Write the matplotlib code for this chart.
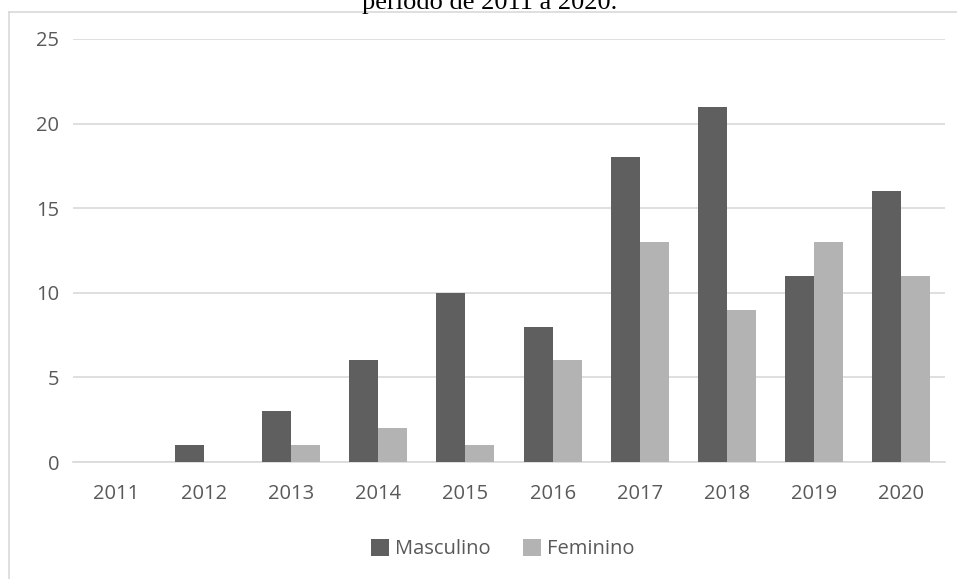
import matplotlib.pyplot as plt
from matplotlib.lines import Line2D
import numpy as np

anos = ['2011', '2012', '2013', '2014', '2015', '2016', '2017', '2018', '2019', '2020']
masculino = [0, 1, 3, 6, 10, 8, 18, 21, 11, 16]
feminino = [0, 0, 1, 2, 1, 6, 13, 9, 13, 11]
yticks = [0, 5, 10, 15, 20, 25]

W, H = 957, 579
fig = plt.figure(figsize=(W / 100, H / 100), dpi=100)

# moldura do gráfico (borda superior e esquerda)
borda = '#d9d9d9'
fig.add_artist(Line2D([9 / W, 1], [1 - 12 / H, 1 - 12 / H], color=borda, lw=1.2,
                      transform=fig.transFigure))
fig.add_artist(Line2D([9 / W, 9 / W], [0, 1 - 12 / H], color=borda, lw=1.2,
                      transform=fig.transFigure))

# legenda da figura (cortada no topo)
fig.text(490 / W, 1 - 9 / H, 'período de 2011 a 2020.', ha='center', va='baseline',
         fontsize=19, family='Liberation Serif', color='black')

ax = fig.add_axes([73 / W, 117 / H, 872 / W, 423 / H])

x = np.arange(len(anos))
largura = 1 / 3
ax.bar(x - largura / 2, masculino, largura, color='#5f5f5f', label='Masculino', zorder=3)
ax.bar(x + largura / 2, feminino, largura, color='#b3b3b3', label='Feminino', zorder=3)

ax.set_xlim(-0.5, len(anos) - 0.5)
ax.set_ylim(0, 25)
ax.set_yticks(yticks)
ax.set_xticks(x)
ax.set_xticklabels(anos)
ax.grid(True, axis='y', color=borda, lw=1.2, zorder=0)
for s in ['top', 'right', 'left']:
    ax.spines[s].set_visible(False)
ax.spines['bottom'].set_color(borda)
ax.spines['bottom'].set_linewidth(1.2)
ax.tick_params(length=0, labelsize=14.5, labelcolor='#595959')
ax.tick_params(axis='y', pad=10)
ax.tick_params(axis='x', pad=16)
for lbl in ax.get_xticklabels() + ax.get_yticklabels():
    lbl.set_family('Open Sans')

leg = fig.legend(loc='center', bbox_to_anchor=(503 / W, 1 - 549 / H), ncol=2,
                 frameon=False, prop={'family': 'Open Sans', 'size': 14.5},
                 handlelength=0.9, handleheight=0.9, handletextpad=0.3,
                 columnspacing=1.6)
for t in leg.get_texts():
    t.set_color('#595959')

fig.savefig('out.png', dpi=100)
